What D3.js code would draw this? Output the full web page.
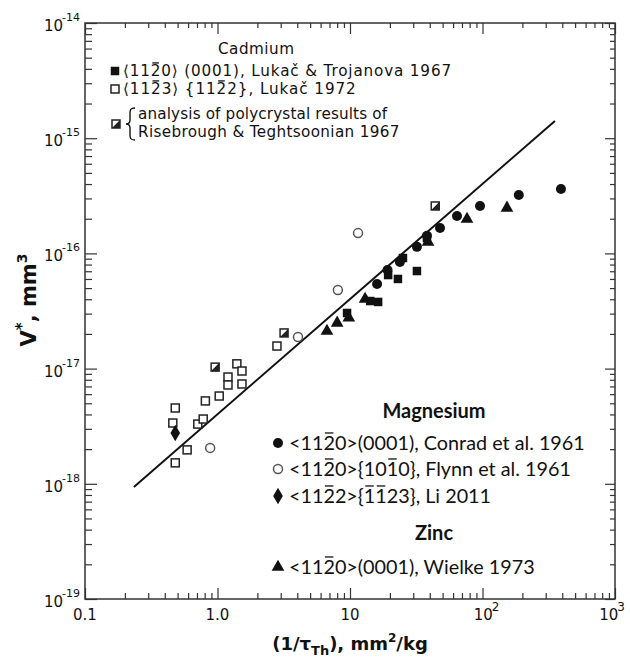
<!DOCTYPE html>
<meta charset="utf-8">
<script src="https://d3js.org/d3.v7.min.js"></script>
<style>
    body { margin: 0; background: #fff; }
    svg { display: block; }
    .tick-lab { font-family: "DejaVu Sans"; font-size: 15px; fill: #111; }
    .cd { font-family: "DejaVu Sans"; font-size: 15.2px; fill: #111; }
    .mg { font-family: Lato; font-size: 19.8px; fill: #111; }
    .mg-head { font-family: Lato; font-size: 20px; font-weight: bold; fill: #111; }
    .title { font-family: "DejaVu Sans"; font-weight: bold; fill: #111; }
</style>
<svg width="630" height="660"></svg>
<script>
    // Cadmium
    const cdBasal = [[9.5, 3.04e-17], [14.2, 3.86e-17], [16.3, 3.79e-17], [19.4, 6.49e-17],
        [23.0, 6.0e-17], [25.1, 9.12e-17], [32.0, 7.03e-17], [38.1, 1.36e-16]];
    const cdPyr = [[0.48, 4.55e-18], [0.46, 3.37e-18], [0.48, 1.52e-18], [0.59, 1.97e-18],
        [0.71, 3.3e-18], [0.78, 3.65e-18], [0.81, 5.24e-18], [1.03, 5.78e-18], [1.2, 8.45e-18],
        [1.2, 7.21e-18], [1.4, 1.1e-17], [1.53, 9.53e-18], [1.53, 7.35e-18], [2.81, 1.57e-17]];
    const cdPoly = [[0.96, 1.03e-17], [3.18, 2.04e-17], [44, 2.58e-16]];
    // Magnesium
    const mgBasal = [[16.0, 5.42e-17], [19.2, 7.18e-17], [23.8, 8.42e-17], [32.0, 1.14e-16],
        [38.1, 1.42e-16], [47.8, 1.66e-16], [64.2, 2.11e-16], [95.8, 2.58e-16], [188, 3.21e-16], [391, 3.62e-16]];
    const mgPrism = [[0.88, 2.05e-18], [4.05, 1.88e-17], [8.1, 4.81e-17], [11.5, 1.5e-16]];
    const mgPyr = [[0.48, 2.76e-18]];
    // Zinc
    const znBasal = [[6.7, 2.16e-17], [8.0, 2.54e-17], [9.8, 2.81e-17], [13.0, 4.1e-17],
        [38.8, 1.28e-16], [76.4, 2.03e-16], [153, 2.53e-16]];
    const fitLine = [[0.234, 9.4e-19], [352, 1.41e-15]];

    const xMajor = [0.1, 1, 10, 100, 1000];
    const xTickLabels = [["0.1", ""], ["1.0", ""], ["10", ""], ["10", "2"], ["10", "3"]];
    const yMajor = [1e-19, 1e-18, 1e-17, 1e-16, 1e-15, 1e-14];
    const yTickLabels = [["10", "-19"], ["10", "-18"], ["10", "-17"], ["10", "-16"], ["10", "-15"], ["10", "-14"]];

    const cdLegend = ["⟨11~20⟩ (0001), Lukač & Trojanova 1967", "⟨11~23⟩ {11~22}, Lukač 1972"];
    const cdPolyLegend = ["analysis of polycrystal results of", "Risebrough & Teghtsoonian 1967"];
    const mgLegend = ["<11~20>(0001), Conrad et al. 1961", "<11~20>{10~10}, Flynn et al. 1961", "<11~22>{~1~123}, Li 2011"];
    const znLegend = ["<11~20>(0001), Wielke 1973"];

    const L = 85, R = 615, T = 23, B = 599, ink = "#111";
    const svg = d3.select("svg");
    const x = d3.scaleLog().domain([0.1, 1000]).range([L, R]);
    const y = d3.scaleLog().domain([1e-19, 1e-14]).range([B, T]);

    const minors = (majors) => {
        const out = [];
        majors.slice(0, -1).forEach(m => { for (let k = 2; k <= 9; k++) out.push(m * k); });
        return out;
    };
    const xMinor = minors(xMajor), yMinor = minors(yMajor);

    // ticks (all inward)
    function ticks(axisFn, scale, vals, len, tf) {
        const g = svg.append("g").attr("transform", tf)
            .call(axisFn(scale).tickValues(vals).tickSize(-len).tickFormat(""));
        g.select(".domain").remove();
        g.selectAll("line").attr("stroke", "#333").attr("stroke-width", 1.2);
    }
    ticks(d3.axisBottom, x, xMinor, 6, `translate(0,${B})`);
    ticks(d3.axisBottom, x, xMajor, 11, `translate(0,${B})`);
    ticks(d3.axisTop, x, xMinor, 5, `translate(0,${T})`);
    ticks(d3.axisTop, x, xMajor, 11, `translate(0,${T})`);
    ticks(d3.axisLeft, y, yMinor, 7, `translate(${L},0)`);
    ticks(d3.axisLeft, y, yMajor, 12, `translate(${L},0)`);
    ticks(d3.axisRight, y, yMinor, 5, `translate(${R},0)`);
    ticks(d3.axisRight, y, yMajor, 10, `translate(${R},0)`);

    svg.append("rect").attr("x", L).attr("y", T).attr("width", R - L).attr("height", B - T)
        .attr("fill", "none").attr("stroke", "#333").attr("stroke-width", 1.5);

    // tick labels (exponent as tspan inside the same text)
    xMajor.forEach((v, i) => {
        const [base, exp] = xTickLabels[i];
        const dx = exp ? (v === 1000 ? -3 : 4) : 0;
        const t = svg.append("text").attr("class", "tick-lab").attr("x", x(v) + dx).attr("y", B + 21)
            .attr("text-anchor", "middle").text(base);
        if (exp) t.append("tspan").attr("dy", -9).attr("dx", -1).style("font-size", "12px").text(exp);
    });
    yMajor.forEach((v, i) => {
        const [base, exp] = yTickLabels[i];
        const t = svg.append("text").attr("class", "tick-lab").attr("x", L - 5).attr("y", y(v) + 8)
            .attr("text-anchor", "end").text(base);
        t.append("tspan").attr("dy", -10).attr("dx", -1).style("font-size", "11px").text(exp);
    });

    // axis titles
    const xt = svg.append("text").attr("class", "title").attr("x", 350).attr("y", 650)
        .attr("text-anchor", "middle").style("font-size", "18px");
    xt.append("tspan").text("(1/τ");
    xt.append("tspan").attr("dy", 5).style("font-size", "13px").text("Th");
    xt.append("tspan").attr("dy", -5).text("), mm");
    xt.append("tspan").attr("dy", -8).style("font-size", "12px").text("2");
    xt.append("tspan").attr("dy", 8).text("/kg");

    const yt = svg.append("text").attr("class", "title")
        .attr("transform", "translate(36,300) rotate(-90)")
        .attr("text-anchor", "middle").style("font-size", "21px");
    yt.append("tspan").text("V");
    yt.append("tspan").attr("dy", -9).style("font-size", "15px").text("*");
    yt.append("tspan").attr("dy", 9).text(", mm");
    yt.append("tspan").attr("dy", -9).style("font-size", "14px").text("3");

    // fit line
    svg.append("path").datum(fitLine)
        .attr("d", d3.line().x(d => x(d[0])).y(d => y(d[1])))
        .attr("fill", "none").attr("stroke", ink).attr("stroke-width", 2);

    // markers
    function marker(g, type, cx, cy) {
        const s = 8.5;
        if (type === "sq") g.append("rect").attr("x", cx - s / 2).attr("y", cy - s / 2).attr("width", s).attr("height", s).attr("fill", ink);
        if (type === "osq") g.append("rect").attr("x", cx - 4).attr("y", cy - 4).attr("width", 8).attr("height", 8)
            .attr("fill", "#fff").attr("stroke", "#222").attr("stroke-width", 1.5);
        if (type === "hsq") {
            g.append("rect").attr("x", cx - 4).attr("y", cy - 4).attr("width", 8).attr("height", 8)
                .attr("fill", "#fff").attr("stroke", "#222").attr("stroke-width", 1.5);
            g.append("path").attr("d", `M${cx + 4},${cy - 4}L${cx + 4},${cy + 4}L${cx - 4},${cy + 4}Z`).attr("fill", "#222");
        }
        if (type === "circ") g.append("circle").attr("cx", cx).attr("cy", cy).attr("r", 5).attr("fill", ink);
        if (type === "ocirc") g.append("circle").attr("cx", cx).attr("cy", cy).attr("r", 4.5)
            .attr("fill", "#fff").attr("stroke", "#555").attr("stroke-width", 1.5);
        if (type === "dia") g.append("path").attr("transform", `translate(${cx},${cy})`)
            .attr("d", d3.symbol(d3.symbolDiamond, 80)()).attr("fill", ink);
        if (type === "tri") g.append("path").attr("transform", `translate(${cx},${cy + 1})`)
            .attr("d", d3.symbol(d3.symbolTriangle, 70)()).attr("fill", ink);
    }
    const series = [[cdPyr, "osq"], [mgPrism, "ocirc"], [cdPoly, "hsq"], [cdBasal, "sq"],
        [znBasal, "tri"], [mgBasal, "circ"], [mgPyr, "dia"]];
    const pts = svg.append("g");
    series.forEach(([data, type]) => data.forEach(d => marker(pts, type, x(d[0]), y(d[1]))));

    // text with overlined characters marked by "~"
    function richText(g, tx, ty, s, cls, fs, spacing = 0) {
        let plain = "", bars = [];
        for (const ch of s) { if (ch === "~") { bars.push(plain.length); continue; } plain += ch; }
        const t = g.append("text").attr("class", cls).attr("x", tx).attr("y", ty)
            .style("letter-spacing", spacing + "px").text(plain);
        bars.forEach(i => {
            const r = t.node().getExtentOfChar(i);
            const w = r.width - spacing;
            g.append("line").attr("x1", r.x + 1.5).attr("x2", r.x + w - 1.5)
                .attr("y1", ty - fs * 0.86).attr("y2", ty - fs * 0.86)
                .attr("stroke", ink).attr("stroke-width", 1.3);
        });
        return t;
    }

    // Cadmium legend
    const lg = svg.append("g");
    lg.append("text").attr("class", "cd").attr("x", 218).attr("y", 54).style("letter-spacing", "0.5px").text("Cadmium");
    richText(lg, 123, 76, cdLegend[0], "cd", 15.2, 0.85);
    richText(lg, 123, 94, cdLegend[1], "cd", 15.2, 0.93);
    marker(lg, "sq", 115, 71);
    marker(lg, "osq", 115, 89);
    marker(lg, "hsq", 116, 124);
    lg.append("path")
        .attr("d", "M135,108 C130,108 130,110 130,114 L130,120 C130,123 129,124 126,124 C129,124 130,125 130,128 L130,134 C130,138 130,140 135,140")
        .attr("fill", "none").attr("stroke", ink).attr("stroke-width", 1.4);
    lg.append("text").attr("class", "cd").attr("x", 138).attr("y", 119).style("letter-spacing", "0.15px").text(cdPolyLegend[0]);
    lg.append("text").attr("class", "cd").attr("x", 138).attr("y", 137).style("letter-spacing", "0.35px").text(cdPolyLegend[1]);

    // Magnesium / Zinc legend
    lg.append("text").attr("class", "mg-head").attr("x", 434).attr("y", 418).attr("text-anchor", "middle").text("Magnesium");
    const mgY = [443, 469, 496];
    mgLegend.forEach((s, i) => richText(lg, 289, mgY[i] + 7, s, "mg", 19.8));
    marker(lg, "circ", 278, 443);
    marker(lg, "ocirc", 278, 469);
    marker(lg, "dia", 278, 496);
    lg.append("text").attr("class", "mg-head").attr("x", 434).attr("y", 540).attr("text-anchor", "middle").text("Zinc");
    richText(lg, 289, 574, znLegend[0], "mg", 19.8);
    marker(lg, "tri", 278, 566);
</script>
